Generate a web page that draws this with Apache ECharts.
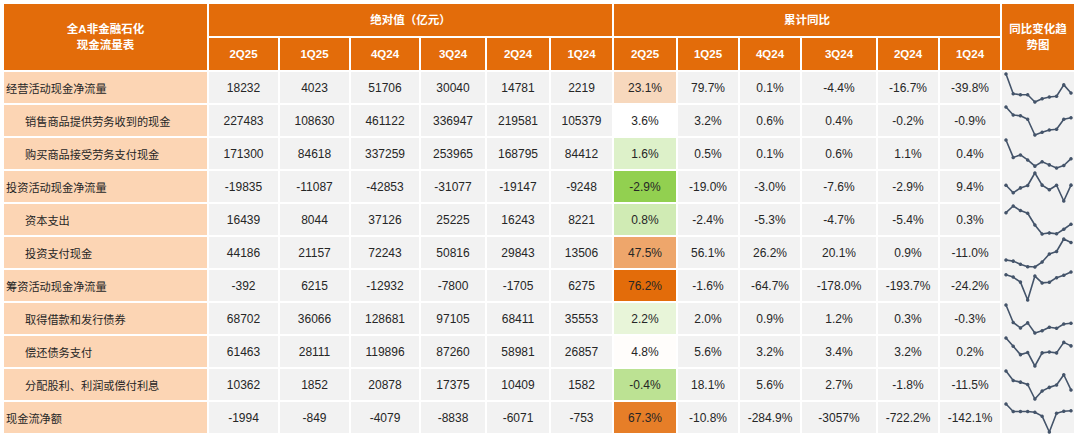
<!DOCTYPE html>
<html>
<head>
<meta charset="utf-8">
<script src="https://cdn.jsdelivr.net/npm/echarts@6/dist/echarts.min.js"></script>
<style>
html, body { margin: 0; padding: 0; background: #fff; }
#main { width: 1080px; height: 443px; }
</style>
</head>
<body>
<div id="main"></div>
<script>
// 行名及层级（0 = 一级项目, 1 = 子项目）
var rowNames = ['经营活动现金净流量', '销售商品提供劳务收到的现金', '购买商品接受劳务支付现金',
    '投资活动现金净流量', '资本支出', '投资支付现金',
    '筹资活动现金净流量', '取得借款和发行债券', '偿还债务支付', '分配股利、利润或偿付利息',
    '现金流净额'];
var rowLevel = [0, 1, 1, 0, 1, 1, 0, 1, 1, 1, 0];
var quarters = ['2Q25', '1Q25', '4Q24', '3Q24', '2Q24', '1Q24'];

// 绝对值（亿元）
var abs2Q25 = [18232, 227483, 171300, -19835, 16439, 44186, -392, 68702, 61463, 10362, -1994];
var abs1Q25 = [4023, 108630, 84618, -11087, 8044, 21157, 6215, 36066, 28111, 1852, -849];
var abs4Q24 = [51706, 461122, 337259, -42853, 37126, 72243, -12932, 128681, 119896, 20878, -4079];
var abs3Q24 = [30040, 336947, 253965, -31077, 25225, 50816, -7800, 97105, 87260, 17375, -8838];
var abs2Q24 = [14781, 219581, 168795, -19147, 16243, 29843, -1705, 68411, 58981, 10409, -6071];
var abs1Q24 = [2219, 105379, 84412, -9248, 8221, 13506, 6275, 35553, 26857, 1582, -753];

// 累计同比（%）
var yoy2Q25 = [23.1, 3.6, 1.6, -2.9, 0.8, 47.5, 76.2, 2.2, 4.8, -0.4, 67.3];
var yoy1Q25 = [79.7, 3.2, 0.5, -19.0, -2.4, 56.1, -1.6, 2.0, 5.6, 18.1, -10.8];
var yoy4Q24 = [0.1, 0.6, 0.1, -3.0, -5.3, 26.2, -64.7, 0.9, 3.2, 5.6, -284.9];
var yoy3Q24 = [-4.4, 0.4, 0.6, -7.6, -4.7, 20.1, -178.0, 1.2, 3.4, 2.7, -3057];
var yoy2Q24 = [-16.7, -0.2, 1.1, -2.9, -5.4, 0.9, -193.7, 0.3, 3.2, -1.8, -722.2];
var yoy1Q24 = [-39.8, -0.9, 0.4, 9.4, 0.3, -11.0, -24.2, -0.3, 0.2, -11.5, -142.1];

// 趋势图里更早的四个季度（表中没有，按图估读）
var yoy1Q23 = [155.6, 6.4, 4.6, -3.0, 8.1, 5.6, 9, 6.9, 6.6, 22.7, 1066];
var yoy2Q23 = [17.7, 4.3, 1.8, -10.7, 12.3, 3.1, -49, 2.4, 4.7, 11.1, -45];
var yoy3Q23 = [10.8, 4.1, 2.2, -5.7, 9.4, -4.4, -174, 1.0, 2.8, 9.1, -45];
var yoy4Q23 = [10.8, 3.2, 1.4, -3.3, 7.7, -10.2, -616, 2.3, 3.3, 6.2, -45];
var sparkQuarters = ['1Q23', '2Q23', '3Q23', '4Q23', '1Q24', '2Q24', '3Q24', '4Q24', '1Q25', '2Q25'];

// 版式
var ORANGE = '#E36C0A', PEACH = '#FCD5B4', GRAY = '#F2F2F2', INK = '#262626';
var TOP = 72, ROW_H = 33, GAP = 2;
var LABEL_COL = [4, 203];
var ABS_COLS = [[209, 69], [280, 69], [351, 68], [421, 64], [487, 62], [551, 61]];
var YOY_COLS = [[614, 62], [678, 60], [740, 60], [802, 74], [878, 60], [940, 60]];
var SPARK_COL = [1002, 72];
var NUM_FONT = '12px "Liberation Sans", Arial, sans-serif';
var CN_FONT = '11.2px "Noto Sans CJK SC", sans-serif';
var HEAD_FONT = 'bold 11.5px "Liberation Sans", "Noto Sans CJK SC", sans-serif';

var absCols = [abs2Q25, abs1Q25, abs4Q24, abs3Q24, abs2Q24, abs1Q24];
var yoyCols = [yoy2Q25, yoy1Q25, yoy4Q24, yoy3Q24, yoy2Q24, yoy1Q24];

function fmtPct(v) {
    return (Math.abs(v) >= 1000 ? Math.round(v) : v.toFixed(1)) + '%';
}

function mix(a, b, t) {
    var r = Math.round(a[0] + (b[0] - a[0]) * t);
    var g = Math.round(a[1] + (b[1] - a[1]) * t);
    var bl = Math.round(a[2] + (b[2] - a[2]) * t);
    return 'rgb(' + r + ',' + g + ',' + bl + ')';
}

// 三色阶：最小值绿色，中位数白色，最大值橙色
function scaleColor(v, arr) {
    var s = arr.slice().sort(function (a, b) { return a - b; });
    var min = s[0], max = s[s.length - 1], mid = s[Math.floor(s.length / 2)];
    if (v <= mid) return mix([146, 208, 80], [255, 255, 255], (v - min) / (mid - min));
    return mix([255, 255, 255], [227, 108, 10], (v - mid) / (max - mid));
}

var grids = [], xAxes = [], yAxes = [], series = [];

function addGrid(left, width, top, height, xCats, yAxisOpt) {
    var idx = grids.length;
    grids.push({ left: left, width: width, top: top, height: height, containLabel: false });
    xAxes.push({ type: 'category', gridIndex: idx, data: xCats, show: false, boundaryGap: xCats.length === 1 ? true : false });
    yAxes.push(Object.assign({ gridIndex: idx, show: false }, yAxisOpt));
    return idx;
}

function addColumn(col, texts, fills, textX, align, font) {
    var g = addGrid(col[0], col[1], TOP, ROW_H * rowNames.length, ['c'],
        { type: 'category', data: rowNames, inverse: true });
    series.push({
        type: 'custom',
        xAxisIndex: g,
        yAxisIndex: g,
        data: rowNames.map(function (n, i) { return [0, i]; }),
        renderItem: function (params, api) {
            var i = params.dataIndex;
            var c = api.coord([0, api.value(1)]);
            var s = api.size([1, 1]);
            var x = c[0] - s[0] / 2, y = c[1] - s[1] / 2, h = s[1] - GAP;
            return {
                type: 'group',
                children: [
                    { type: 'rect', shape: { x: x, y: y, width: s[0], height: h }, style: { fill: fills[i] } },
                    { type: 'text', style: {
                        text: texts[i], x: align === 'left' ? x + textX(i) : c[0], y: y + h / 2 + 0.5,
                        align: align, verticalAlign: 'middle', font: font, fill: INK } }
                ]
            };
        }
    });
}

// 行名列
addColumn(LABEL_COL, rowNames, rowNames.map(function () { return PEACH; }),
    function (i) { return rowLevel[i] ? 21 : 2; }, 'left', CN_FONT);

// 绝对值列
absCols.forEach(function (arr, k) {
    addColumn(ABS_COLS[k], arr.map(String), arr.map(function () { return GRAY; }), null, 'center', NUM_FONT);
});

// 累计同比列（最新一季带色阶）
yoyCols.forEach(function (arr, k) {
    var fills = arr.map(function (v) { return k === 0 ? scaleColor(v, arr) : GRAY; });
    addColumn(YOY_COLS[k], arr.map(fmtPct), fills, null, 'center', NUM_FONT);
});

// 趋势图
rowNames.forEach(function (n, i) {
    var g = addGrid(SPARK_COL[0] + 4, SPARK_COL[1] - 7, TOP + i * ROW_H + 2, 28, sparkQuarters, {
        type: 'value', scale: true,
        min: function (v) { return v.min; }, max: function (v) { return v.max; },
        splitLine: { show: false }
    });
    series.push({
        type: 'line',
        name: n,
        xAxisIndex: g,
        yAxisIndex: g,
        data: [yoy1Q23[i], yoy2Q23[i], yoy3Q23[i], yoy4Q23[i], yoy1Q24[i], yoy2Q24[i],
            yoy3Q24[i], yoy4Q24[i], yoy1Q25[i], yoy2Q25[i]],
        symbol: 'circle',
        symbolSize: 3.5,
        lineStyle: { color: '#44546A', width: 1.6 },
        itemStyle: { color: '#44546A' },
        z: 5
    });
});

// 表头
var graphics = [];
function headCell(x, y, w, h, text) {
    graphics.push({ type: 'rect', shape: { x: x, y: y, width: w, height: h }, style: { fill: ORANGE }, z: 1 });
    graphics.push({ type: 'text', x: x + w / 2, y: y + h / 2, z: 2,
        style: { text: text, align: 'center', verticalAlign: 'middle', font: HEAD_FONT, fill: '#fff', lineHeight: 16 } });
}
headCell(LABEL_COL[0], 4, LABEL_COL[1], 66, '全A非金融石化\n现金流量表');
headCell(ABS_COLS[0][0], 4, ABS_COLS[5][0] + ABS_COLS[5][1] - ABS_COLS[0][0], 32, '绝对值（亿元）');
headCell(YOY_COLS[0][0], 4, YOY_COLS[5][0] + YOY_COLS[5][1] - YOY_COLS[0][0], 32, '累计同比');
headCell(SPARK_COL[0], 4, SPARK_COL[1], 66, '同比变化趋\n势图');
quarters.forEach(function (q, k) {
    headCell(ABS_COLS[k][0], 38, ABS_COLS[k][1], 32, q);
    headCell(YOY_COLS[k][0], 38, YOY_COLS[k][1], 32, q);
});
graphics.push({ type: 'rect', shape: { x: SPARK_COL[0], y: TOP, width: SPARK_COL[1], height: ROW_H * rowNames.length - GAP },
    style: { fill: GRAY }, z: 0 });

var chart = echarts.init(document.getElementById('main'), null, { renderer: 'svg' });
chart.setOption({
    animation: false,
    backgroundColor: '#fff',
    grid: grids,
    xAxis: xAxes,
    yAxis: yAxes,
    graphic: graphics,
    series: series
});
</script>
</body>
</html>
